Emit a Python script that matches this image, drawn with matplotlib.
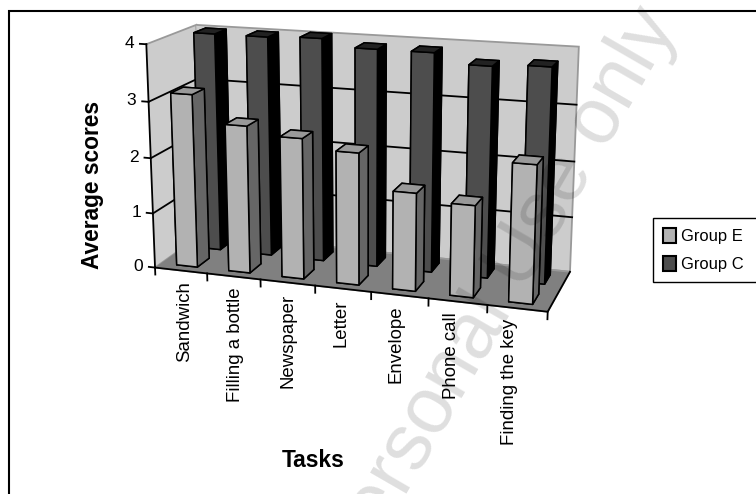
"""Grouped 3D column chart of average task scores."""

import matplotlib

matplotlib.use("Agg")
from matplotlib import pyplot as plt
from matplotlib.patches import Patch, Rectangle
from mpl_toolkits.mplot3d import proj3d

plt.rcParams["font.family"] = ["Liberation Sans", "DejaVu Sans"]

tasks = [
    "Sandwich",
    "Filling a bottle",
    "Newspaper",
    "Letter",
    "Envelope",
    "Phone call",
    "Finding the key",
]
group_e = [3.12, 2.64, 2.5, 2.33, 1.72, 1.6, 2.38]
group_c = [4.0, 4.0, 4.03, 3.9, 3.9, 3.73, 3.78]
score_ticks = [0, 1, 2, 3, 4]

WIDTH, HEIGHT = 756, 494
BAR_W = 0.4
BAR_D = 0.5
EDGE = "black"


def px_rect(left, top, width, height):
    return [left / WIDTH, 1 - (top + height) / HEIGHT, width / WIDTH, height / HEIGHT]


def draw_series(ax, values, row, front, top, side, zorder):
    n = len(values)
    xs = [i + 0.5 - BAR_W / 2 for i in range(n)]
    ys = [row + 0.5 - BAR_D / 2] * n
    # face order in bar3d: bottom, top, front, back, left, right
    faces = [side, top, front, side, side, side] * n
    ax.bar3d(
        xs, ys, [0] * n, BAR_W, BAR_D, values,
        color=faces, shade=False, edgecolor=EDGE, linewidth=1.1, zorder=zorder,
        clip_on=False,
    )


def line3d(ax, xs, ys, zs, zorder):
    ax.plot(xs, ys, zs, color="black", lw=1.3, zorder=zorder, clip_on=False)


fig = plt.figure(figsize=(WIDTH / 100, HEIGHT / 100), dpi=100)
fig.patches.append(
    Rectangle((9 / WIDTH, -0.1), 1.0, 1.1 - 11 / HEIGHT, transform=fig.transFigure,
              fill=False, edgecolor="black", linewidth=1.5, figure=fig)
)

ax = fig.add_axes(px_rect(224, 29.5, 268, 268), projection="3d", computed_zorder=False)
ax.patch.set_alpha(0)
ax.set_box_aspect((405, 118, 231), zoom=1.75)
ax.view_init(elev=15, azim=-72)
ax.set_proj_type("persp", focal_length=1)

n_tasks = len(tasks)
for axis, color in ((ax.xaxis, "#cccccc"), (ax.yaxis, "#cccccc"), (ax.zaxis, "#808080")):
    axis.set_pane_color(color)
    axis.pane.set_edgecolor("#999999")
    axis.pane.set_linewidth(1.3)
    axis.line.set_color((0, 0, 0, 0))
ax.set_xticks([])
ax.set_yticks([])
ax.set_zticks([])

for score in score_ticks:
    line3d(ax, [-0.12, 0], [0, 0], [score, score], 5)
    # the walls carry gridlines only between floor and top edge
    if 0 < score < max(score_ticks):
        line3d(ax, [0, 0, n_tasks], [0, 2, 2], [score] * 3, 2)
    ax.text(-0.23, 0, score, str(score), ha="right", va="center", fontsize=12.5)

draw_series(ax, group_c, 1, "#4d4d4d", "#222222", "#000000", 3)
draw_series(ax, group_e, 0, "#b2b2b2", "#999999", "#666666", 4)

line3d(ax, [0, 0], [0, 0], [0, max(score_ticks)], 5)
line3d(ax, [0, n_tasks, n_tasks], [0, 0, 2], [0, 0, 0], 5)
for i in range(n_tasks + 1):
    line3d(ax, [i, i], [0, 0], [0, -0.13], 5)

ax.set_xlim(0, n_tasks, view_margin=0)
ax.set_ylim(0, 2, view_margin=0)
ax.set_zlim(0, max(score_ticks), view_margin=0)

# Text3D forces its own angle, so the upright labels are placed as 2D text
proj = ax.get_proj()
for i, task in enumerate(tasks):
    px, py, _ = proj3d.proj_transform(0.56 + 0.968 * i, 0, -0.2, proj)
    ax.text2D(px, py, task, transform=ax.transData, rotation=90, ha="center",
              va="top", fontsize=13.4)

fig.text(92 / WIDTH, 1 - 185 / HEIGHT, "Average scores", rotation=90, ha="center",
         va="center", fontsize=16.4, fontweight="bold")
fig.text(313 / WIDTH, 1 - 460 / HEIGHT, "Tasks", ha="center", va="center",
         fontsize=16.4, fontweight="bold")

handles = [
    Patch(facecolor="#b2b2b2", edgecolor="black", linewidth=1.5, label="Group E"),
    Patch(facecolor="#4d4d4d", edgecolor="black", linewidth=1.5, label="Group C"),
]
fig.legend(
    handles=handles, loc="upper left",
    bbox_to_anchor=(653 / WIDTH, 1 - 282 / HEIGHT, 110 / WIDTH, 64 / HEIGHT),
    mode="expand", fontsize=11.9, fancybox=False, framealpha=1, edgecolor="black",
    borderaxespad=0, handlelength=0.8, handleheight=1.0, handletextpad=0.3,
    labelspacing=0.72, borderpad=0.6,
)

fig.text(517 / WIDTH, 1 - 303 / HEIGHT, "Personal Use only", rotation=60, ha="center",
         va="baseline", rotation_mode="anchor", fontsize=57, color="black", alpha=0.13,
         zorder=10)

fig.savefig("out.png", dpi=100)
